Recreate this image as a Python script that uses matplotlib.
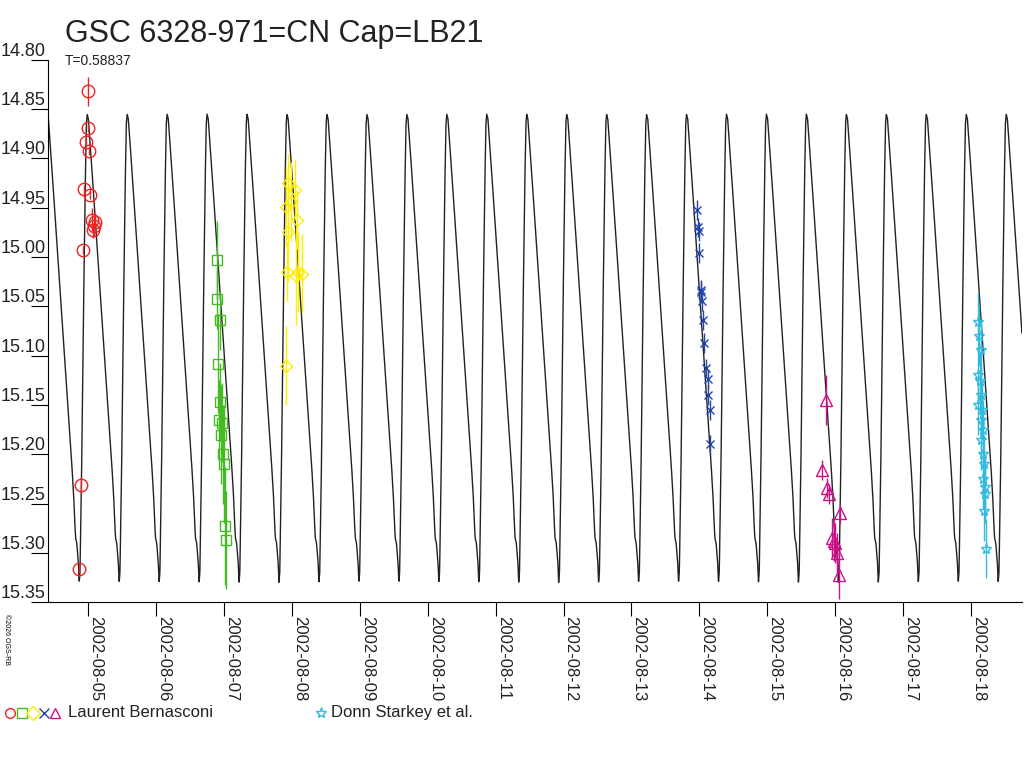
import numpy as np
import matplotlib
matplotlib.use("Agg")
import matplotlib.pyplot as plt

plt.rcParams["font.family"] = ["Liberation Sans", "DejaVu Sans"]

# x in days of August 2002, y in magnitude
period = 0.58837
epoch = 4.985  # time of a maximum
# light-curve template, phase from maximum
tmpl_phase = [0.0, 0.03, 0.1, 0.2, 0.3, 0.4, 0.5, 0.6, 0.66, 0.69, 0.71, 0.74, 0.78, 0.8, 0.82, 0.86, 0.9, 0.95, 0.98, 1.0]
tmpl_mag = [14.855, 14.86, 14.9, 14.96, 15.02, 15.08, 15.14, 15.2, 15.24, 15.27, 15.285, 15.29, 15.31, 15.33, 15.32, 15.22, 15.08, 14.93, 14.865, 14.855]

red_t = [5.0, 5.0, 4.97, 5.015, 4.94, 5.03, 5.06, 5.09, 5.075, 5.105, 4.925, 4.9, 4.87]
red_m = [14.832, 14.869, 14.883, 14.892, 14.931, 14.937, 14.962, 14.968, 14.973, 14.964, 14.993, 15.231, 15.316]
red_e = [0.015, 0.004, 0.004, 0.004, 0.004, 0.004, 0.012, 0.012, 0.008, 0.008, 0.004, 0.008, 0.004]

grn_t = [6.9, 6.9, 6.94, 6.91, 6.94, 6.93, 6.97, 6.96, 6.99, 7.0, 7.01, 7.03]
grn_m = [15.003, 15.043, 15.064, 15.108, 15.147, 15.165, 15.168, 15.18, 15.2, 15.21, 15.273, 15.287]
grn_e = [0.04, 0.03, 0.03, 0.05, 0.04, 0.04, 0.04, 0.05, 0.05, 0.06, 0.06, 0.05]

yel_t = [7.94, 8.04, 7.99, 7.91, 8.07, 7.94, 8.09, 8.15, 8.06, 7.91, 7.93]
yel_m = [14.925, 14.932, 14.944, 14.949, 14.962, 14.975, 15.015, 15.017, 15.019, 15.11, 15.015]
yel_e = [0.03, 0.03, 0.04, 0.04, 0.03, 0.05, 0.04, 0.04, 0.05, 0.04, 0.03]

blu_t = [13.97, 13.98, 13.99, 14.0, 14.02, 14.03, 14.04, 14.05, 14.07, 14.1, 14.12, 14.13, 14.15, 14.16]
blu_m = [14.952, 14.97, 14.974, 14.996, 15.033, 15.035, 15.045, 15.064, 15.087, 15.113, 15.124, 15.14, 15.155, 15.19]
blu_e = [0.01] * 14

mag_t = [15.86, 15.81, 15.88, 15.91, 16.07, 15.96, 15.98, 16.0, 16.03, 16.06]
mag_m = [15.145, 15.216, 15.234, 15.24, 15.26, 15.285, 15.288, 15.29, 15.3, 15.322]
mag_e = [0.025, 0.01, 0.01, 0.01, 0.01, 0.02, 0.02, 0.02, 0.02, 0.025]

cyn_t = [18.1, 18.12, 18.14, 18.1, 18.13, 18.15, 18.11, 18.16, 18.14, 18.17, 18.15, 18.18, 18.19, 18.17, 18.2, 18.21, 18.19, 18.22]
cyn_m = [15.066, 15.08, 15.094, 15.12, 15.126, 15.14, 15.15, 15.155, 15.165, 15.175, 15.186, 15.2, 15.21, 15.225, 15.233, 15.24, 15.258, 15.296]
cyn_e = [0.03] * 18

date_ticks = list(range(5, 19))
date_labels = ["2002-08-%02d" % d for d in date_ticks]
mag_ticks = [14.80, 14.85, 14.90, 14.95, 15.00, 15.05, 15.10, 15.15, 15.20, 15.25, 15.30, 15.35]

fig = plt.figure(figsize=(10.24, 7.68), dpi=100)
ax = fig.add_axes([0.047, 0.216, 0.951, 0.706])

t = np.linspace(4.41, 18.75, 6000)
ph = ((t - epoch) / period) % 1.0
ax.plot(t, np.interp(ph, tmpl_phase, tmpl_mag), color="#222222", lw=1)

def series(tt, mm, ee, color, marker, size=8):
    ax.errorbar(tt, mm, yerr=ee, fmt="none", ecolor=color, elinewidth=1)
    ax.plot(tt, mm, ls="none", marker=marker, ms=size, mfc="none", mec=color, mew=1)

series(red_t, red_m, red_e, "#ee2222", "o", 9)
series(grn_t, grn_m, grn_e, "#44bb22", "s", 7)
series(yel_t, yel_m, yel_e, "#ffee00", "D", 6)
series(blu_t, blu_m, blu_e, "#2244aa", "x", 6)
series(mag_t, mag_m, mag_e, "#cc1188", "^", 8)
series(cyn_t, cyn_m, cyn_e, "#33bbdd", "*", 8)

ax.set_xlim(4.41, 18.75)
ax.set_ylim(15.35, 14.80)
ax.set_yticks(mag_ticks)
ax.set_yticklabels(["%.2f" % v for v in mag_ticks], fontsize=13, va="bottom", color="#222222")
ax.set_xticks(date_ticks)
ax.set_xticklabels(date_labels, rotation=-90, fontsize=12, ha="left", color="#222222")
ax.tick_params(axis="x", length=10, pad=0)
ax.tick_params(axis="y", length=12, pad=-10)
for s in ["top", "right"]:
    ax.spines[s].set_visible(False)

fig.text(0.063, 0.945, "GSC 6328-971=CN Cap=LB21", fontsize=22, color="#222222")
fig.text(0.063, 0.916, "T=0.58837", fontsize=10, color="#222222")
fig.text(0.003, 0.2, "©2026 OGS-RB", fontsize=5, rotation=-90, va="top")

# legend row
lx = [0.010, 0.021, 0.032, 0.043, 0.054]
lm = ["o", "s", "D", "x", "^"]
lc = ["#ee2222", "#44bb22", "#ffee00", "#2244aa", "#cc1188"]
for x, m, c in zip(lx, lm, lc):
    fig.lines.append(plt.Line2D([x], [0.072], marker=m, ms=7, mfc="none", mec=c,
                                ls="none", transform=fig.transFigure))
fig.text(0.066, 0.072, "Laurent Bernasconi", fontsize=12, va="center", color="#222222")
fig.lines.append(plt.Line2D([0.313], [0.072], marker="*", ms=8, mfc="none", mec="#33bbdd",
                            ls="none", transform=fig.transFigure))
fig.text(0.323, 0.072, "Donn Starkey et al.", fontsize=12, va="center", color="#222222")

fig.savefig("out.png", dpi=100)
